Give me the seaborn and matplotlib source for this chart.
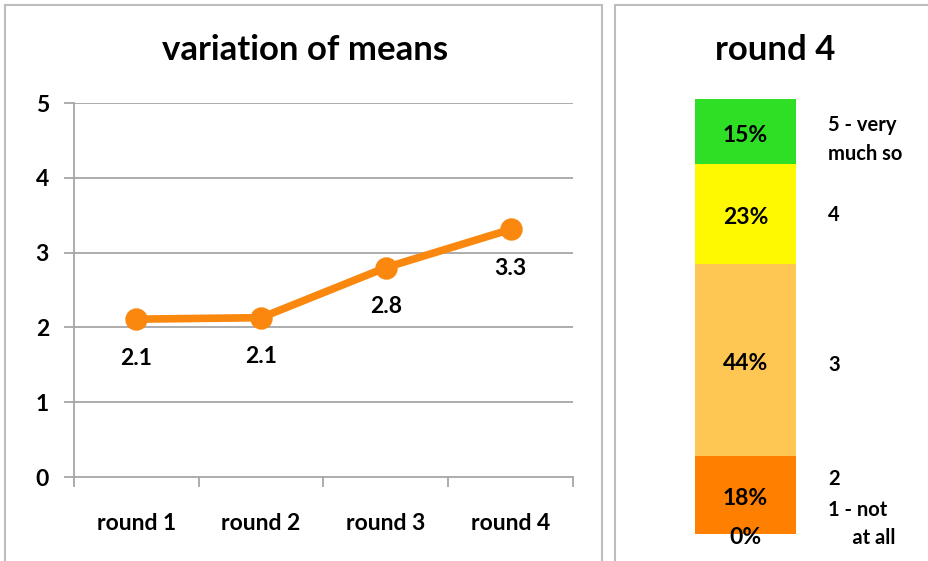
import numpy as np
import pandas as pd
import seaborn as sns
import matplotlib.pyplot as plt
from matplotlib.patches import Rectangle

# data
rounds = ["round 1", "round 2", "round 3", "round 4"]
means = [2.11, 2.13, 2.8, 3.31]
mean_labels = ["2.1", "2.1", "2.8", "3.3"]

levels = ["1 - not\n     at all", "2", "3", "4", "5 - very\nmuch so"]
shares = [0, 18, 44, 23, 15]
share_colors = ["#FF7F00", "#FF7F00", "#FEC653", "#FEF900", "#2EDF26"]
# where the level names sit next to the bar (in %-units of the bar)
level_label_y = [2.3, 12.6, 38.9, 73.3, 90.6]

sns.set_theme(style="white")
plt.rcParams['font.family'] = ['Lato', 'DejaVu Sans']
plt.rcParams['font.weight'] = 'bold'
plt.rcParams['text.color'] = 'black'
plt.rcParams['xtick.color'] = 'black'
plt.rcParams['ytick.color'] = 'black'

fig = plt.figure(figsize=(9.29, 5.61), dpi=100)

# panel frames
for x0, x1 in [(5, 602), (615, 935)]:
    fig.patches.append(Rectangle((x0 / 929, -0.02), (x1 - x0) / 929, 1 - 5 / 561 + 0.02,
                                 transform=fig.transFigure, fill=False,
                                 edgecolor="#BDBDBD", linewidth=1.5))

# ---- left: line of means ----
ax = fig.add_axes([74 / 929, 1 - 477 / 561, 499 / 929, 374 / 561])
df = pd.DataFrame({"round": rounds, "mean": means})
sns.pointplot(data=df, x="round", y="mean", color="#FA880F", markers="o",
              markersize=12, linewidth=5.5, ax=ax)
ax.set_xlim(-0.5, 3.5)
ax.set_ylim(0, 5)
ax.set_yticks(range(6))
ax.set_xlabel("")
ax.set_ylabel("")
for y in range(1, 6):
    ax.axhline(y, color="#A6A6A6", lw=1.3, zorder=0)
for s in ["top", "right"]:
    ax.spines[s].set_visible(False)
for s in ["left", "bottom"]:
    ax.spines[s].set_color("#A6A6A6")
    ax.spines[s].set_linewidth(1.3)
ax.set_xticks(np.arange(-0.5, 4, 1), minor=True)
ax.tick_params(axis="x", which="major", length=0, pad=26, labelsize=16.5)
ax.tick_params(axis="x", which="minor", length=7, width=1.3, color="#A6A6A6", direction="out")
ax.tick_params(axis="y", length=7, width=1.3, color="#A6A6A6", pad=11, labelsize=16.5)
ax.tick_params(bottom=True, left=True, which="both")
for lab in ax.get_xticklabels() + ax.get_yticklabels():
    lab.set_fontweight("bold")
for i, (v, t) in enumerate(zip(means, mean_labels)):
    ax.annotate(t, (i, v), xytext=(0, -28), textcoords="offset points",
                ha="center", va="center", fontsize=16.5, fontweight="bold")
fig.text(305 / 929, 1 - 50 / 561, "variation of means", ha="center", va="center",
         fontsize=25, fontweight="bold")

# ---- right: stacked bar for round 4 ----
bx = fig.add_axes([695 / 929, 1 - 534 / 561, 101 / 929, 435 / 561])
cum = np.cumsum(shares)
for k in range(len(shares) - 1, -1, -1):
    if shares[k] == 0:
        continue
    sns.barplot(x=["round 4"], y=[cum[k]], color=share_colors[k], width=1,
                linewidth=0, saturation=1, ax=bx)
bx.set_xlim(-0.5, 0.5)
bx.set_ylim(0, 100)
bx.axis("off")
for k, s in enumerate(shares):
    yc = cum[k] - s / 2 - 0.8
    bx.text(0, yc, f"{s}%", ha="center", va="center", fontsize=16.5,
            fontweight="bold", clip_on=False)
for name, yl in zip(levels, level_label_y):
    bx.text(0.82, yl, name, ha="left", va="center", fontsize=14.5,
            fontweight="bold", linespacing=1.55, clip_on=False)
fig.text(775 / 929, 1 - 50 / 561, "round 4", ha="center", va="center",
         fontsize=25, fontweight="bold")

fig.savefig("out.png", dpi=100)
